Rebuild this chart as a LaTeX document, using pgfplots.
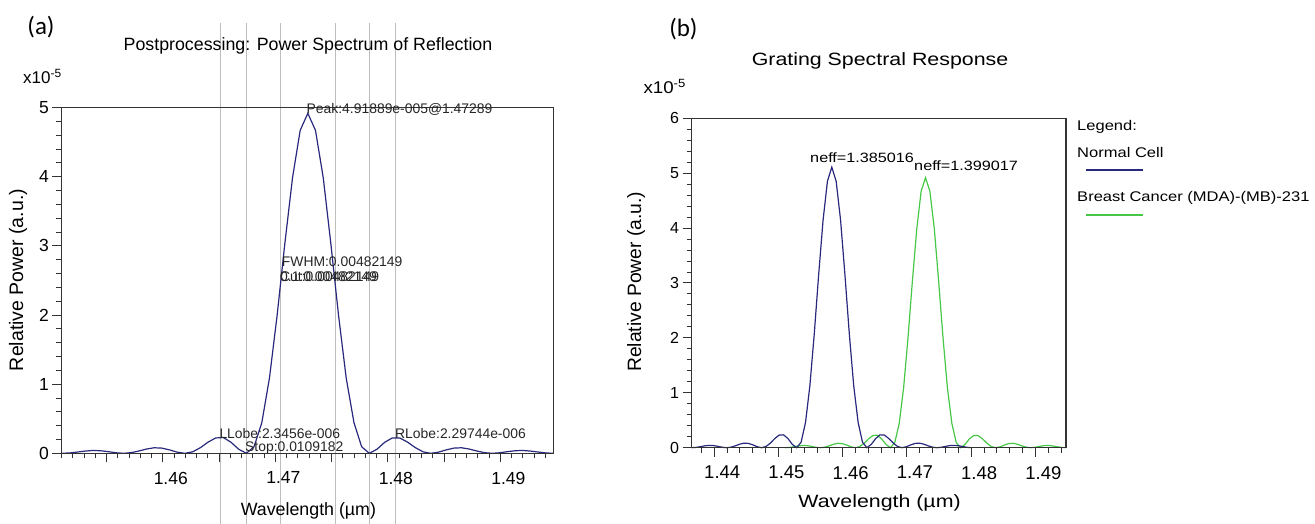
\documentclass[border=0pt]{standalone}
\usepackage{pgfplots}
\pgfplotsset{compat=1.18}
\usepackage{fontspec}
\setmainfont{Liberation Sans}
\newfontfamily\carlito{Carlito}
\definecolor{navy}{RGB}{40,40,125}
\definecolor{cgreen}{RGB}{70,200,70}
\definecolor{glines}{RGB}{190,190,190}
\newcommand{\fs}[1]{\fontsize{#1}{#1}\selectfont}
\begin{document}
\begin{tikzpicture}
\useasboundingbox (0,0) rectangle (1315pt,524pt);
\pgfplotsset{
  myaxis/.style={
    scale only axis, axis on top, clip=false,
    anchor=south west,
    tick align=outside, tick pos=left,
    axis line style={line width=1.4pt, black!80},
    every tick/.style={line width=1pt, black!80},
    major tick length=9pt, minor tick length=5pt,
    /pgf/number format/assume math mode=true,
    tick label style={font=\fs{17.5}},
  }
}
% ---------------- (a) ----------------
\begin{axis}[myaxis, at={(61.5pt,70.7pt)}, width=492.1pt, height=345.6pt,
  xmin=1.4510, xmax=1.49473, ymin=0, ymax=5,
  xtick={1.455,1.46,1.465,1.47,1.475,1.48,1.485,1.49},
  xticklabels={,1.46,,1.47,,1.48,,1.49},
  minor xtick={1.451,1.452,...,1.494},
  ytick={0,1,2,3,4,5}, minor y tick num=4,
  xticklabel style={xshift=8pt, yshift=-6pt},
]
\addplot[glines, line width=0.8pt] coordinates {(1.46508,-1.03) (1.46508,6.22)};
\addplot[glines, line width=0.8pt] coordinates {(1.46743,-1.03) (1.46743,6.22)};
\addplot[glines, line width=0.8pt] coordinates {(1.47048,-1.03) (1.47048,6.22)};
\addplot[glines, line width=0.8pt] coordinates {(1.47530,-1.03) (1.47530,6.22)};
\addplot[glines, line width=0.8pt] coordinates {(1.47835,-1.03) (1.47835,6.22)};
\addplot[glines, line width=0.8pt] coordinates {(1.48070,-1.03) (1.48070,6.22)};
\addplot[navy, line width=1.2pt, mark=none] coordinates {
(1.45105,0) (1.45173,0.005) (1.45242,0.018) (1.45310,0.032) (1.45378,0.041) (1.45446,0.037) (1.45515,0.024) (1.45583,0.0075) (1.45651,0) (1.45719,0.009) (1.45788,0.033) (1.45856,0.062) (1.45924,0.080) (1.45992,0.075) (1.46061,0.049) (1.46129,0.016) (1.46197,0) (1.46265,0.021) (1.46334,0.081) (1.46402,0.161) (1.46470,0.222) (1.46538,0.228) (1.46607,0.159) (1.46675,0.058) (1.46743,0) (1.46811,0.095) (1.46880,0.443) (1.46948,1.089) (1.47016,1.994) (1.47084,3.025) (1.47153,3.987) (1.47221,4.672) (1.47289,4.919) (1.47357,4.672) (1.47426,3.987) (1.47494,3.025) (1.47562,1.994) (1.47630,1.089) (1.47699,0.443) (1.47767,0.095) (1.47835,0) (1.47903,0.058) (1.47972,0.159) (1.48040,0.223) (1.48108,0.220) (1.48176,0.161) (1.48245,0.081) (1.48313,0.021) (1.48381,0) (1.48449,0.016) (1.48518,0.049) (1.48586,0.075) (1.48654,0.080) (1.48722,0.062) (1.48791,0.033) (1.48859,0.009) (1.48927,0) (1.48995,0.0075) (1.49064,0.024) (1.49132,0.037) (1.49200,0.041) (1.49268,0.032) (1.49337,0.018) (1.49405,0.005) (1.49473,0)
};
\end{axis}
% ---------------- (b) ----------------
\begin{axis}[myaxis, at={(691.5pt,76.3pt)}, width=374.3pt, height=329.4pt,
  xmin=1.43646, xmax=1.49473, ymin=0, ymax=6,
  xtick={1.44,1.45,1.46,1.47,1.48,1.49},
  xticklabels={1.44,1.45,1.46,1.47,1.48,1.49},
  minor xtick={1.438,1.440,...,1.494},
  ytick={0,1,2,3,4,5,6}, minor y tick num=4,
  xticklabel style={xshift=8pt, yshift=-6pt, font=\fs{18.5}},
  yticklabel style={font=\fs{16}},
]
\addplot[cgreen, line width=1.2pt, mark=none] coordinates {
(1.45105,0) (1.45173,0.005) (1.45242,0.018) (1.45310,0.032) (1.45378,0.041) (1.45446,0.037) (1.45515,0.024) (1.45583,0.0075) (1.45651,0) (1.45719,0.009) (1.45788,0.033) (1.45856,0.062) (1.45924,0.080) (1.45992,0.075) (1.46061,0.049) (1.46129,0.016) (1.46197,0) (1.46265,0.021) (1.46334,0.081) (1.46402,0.161) (1.46470,0.222) (1.46538,0.228) (1.46607,0.159) (1.46675,0.058) (1.46743,0) (1.46811,0.095) (1.46880,0.443) (1.46948,1.089) (1.47016,1.994) (1.47084,3.025) (1.47153,3.987) (1.47221,4.672) (1.47289,4.919) (1.47357,4.672) (1.47426,3.987) (1.47494,3.025) (1.47562,1.994) (1.47630,1.089) (1.47699,0.443) (1.47767,0.095) (1.47835,0) (1.47903,0.058) (1.47972,0.159) (1.48040,0.223) (1.48108,0.220) (1.48176,0.161) (1.48245,0.081) (1.48313,0.021) (1.48381,0) (1.48449,0.016) (1.48518,0.049) (1.48586,0.075) (1.48654,0.080) (1.48722,0.062) (1.48791,0.033) (1.48859,0.009) (1.48927,0) (1.48995,0.0075) (1.49064,0.024) (1.49132,0.037) (1.49200,0.041) (1.49268,0.032) (1.49337,0.018) (1.49405,0.005) (1.49473,0)
};
\addplot[navy, line width=1.2pt, mark=none] coordinates {
(1.43646,0) (1.43714,0.005) (1.43783,0.018) (1.43851,0.034) (1.43919,0.042) (1.43987,0.039) (1.44056,0.025) (1.44124,0.008) (1.44192,0) (1.44260,0.009) (1.44329,0.034) (1.44397,0.064) (1.44465,0.083) (1.44533,0.078) (1.44602,0.051) (1.44670,0.017) (1.44738,0) (1.44806,0.022) (1.44875,0.085) (1.44943,0.167) (1.45011,0.230) (1.45079,0.234) (1.45148,0.166) (1.45216,0.060) (1.45284,0) (1.45352,0.099) (1.45421,0.460) (1.45489,1.131) (1.45557,2.071) (1.45625,3.143) (1.45694,4.142) (1.45762,4.853) (1.45830,5.110) (1.45898,4.853) (1.45967,4.142) (1.46035,3.143) (1.46103,2.071) (1.46171,1.131) (1.46240,0.460) (1.46308,0.099) (1.46376,0) (1.46444,0.060) (1.46513,0.166) (1.46581,0.234) (1.46649,0.230) (1.46717,0.167) (1.46786,0.085) (1.46854,0.022) (1.46922,0) (1.46990,0.017) (1.47059,0.051) (1.47127,0.078) (1.47195,0.083) (1.47263,0.064) (1.47332,0.034) (1.47400,0.009) (1.47468,0) (1.47536,0.008) (1.47605,0.025) (1.47673,0.039) (1.47741,0.042) (1.47809,0.034) (1.47878,0.018) (1.47946,0.005) (1.48014,0)
};
\end{axis}
% ---------------- texts (a) ----------------
\node[font=\carlito\fs{25}] at (41pt,496.5pt) {(a)};
\node[font=\fs{17.8}] at (308pt,478.2pt) {Postprocessing: Power Spectrum of Reflection};
\node[font=\fs{17}, anchor=base west, inner sep=0pt] at (23pt,440.7pt) {x10\textsuperscript{-5}};
\node[font=\fs{19.5}, rotate=90] at (18pt,244pt) {Relative Power (a.u.)};
\node[font=\fs{17.8}] at (308.4pt,13pt) {Wavelength (µm)};
\begin{scope}[every node/.style={font=\fs{13.9}, anchor=west, inner sep=0pt, text=black!85}]
\node at (306.5pt,415pt) {Peak:4.91889e-005@1.47289};
\node at (281.7pt,262.3pt) {FWHM:0.00482149};
\node at (280pt,247.3pt) {Cut:0.00482149};
\node at (280pt,247.3pt) {0.1:0.00482149};
\node at (219.3pt,90.7pt) {LLobe:2.3456e-006};
\node at (245pt,75.7pt) {Stop:0.0109182};
\node at (395pt,90.7pt) {RLobe:2.29744e-006};
\end{scope}
% ---------------- texts (b) ----------------
\node[font=\carlito\fs{25}] at (683.4pt,495pt) {(b)};
\node[font=\fs{17.8}, xscale=1.2] at (880pt,463.2pt) {Grating Spectral Response};
\node[font=\fs{17}, anchor=base west, inner sep=0pt, xscale=1.1] at (643.3pt,430.7pt) {x10\textsuperscript{-5}};
\node[font=\fs{19.3}, rotate=90] at (636pt,242.3pt) {Relative Power (a.u.)};
\node[font=\fs{17.8}, xscale=1.2] at (879.6pt,21pt) {Wavelength (µm)};
\node[font=\fs{13.5}, anchor=west, inner sep=0pt, xscale=1.2] at (810pt,366.5pt) {neff=1.385016};
\node[font=\fs{13.5}, anchor=west, inner sep=0pt, xscale=1.2] at (914pt,358pt) {neff=1.399017};
\begin{scope}[every node/.style={font=\fs{14}, anchor=west, inner sep=0pt, xscale=1.18}]
\node at (1077pt,397.5pt) {Legend:};
\node at (1077pt,371pt) {Normal Cell};
\node at (1077pt,326pt) {Breast Cancer (MDA)-(MB)-231};
\end{scope}
\draw[navy, line width=1.2pt] (1086pt,354pt) -- (1143pt,354pt);
\draw[cgreen, line width=1.2pt] (1086pt,309pt) -- (1143pt,309pt);
\end{tikzpicture}
\end{document}
